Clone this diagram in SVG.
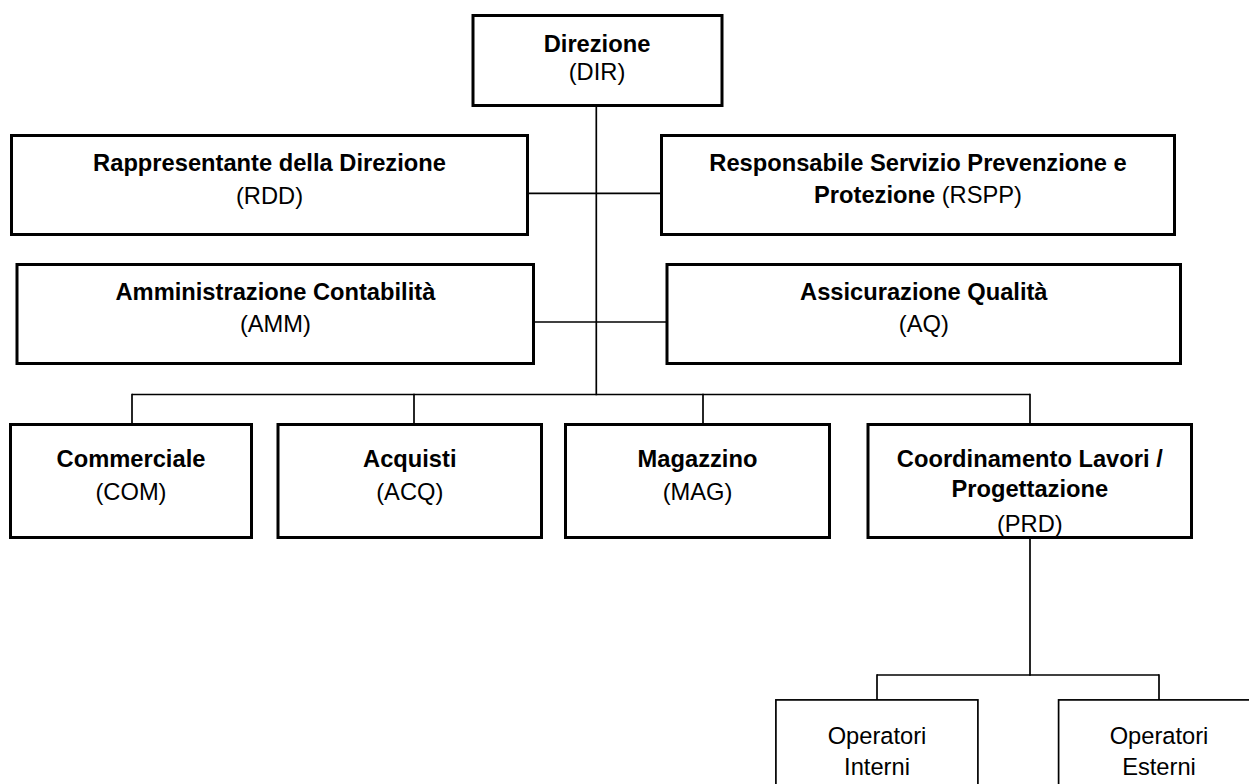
<svg xmlns="http://www.w3.org/2000/svg" width="1249" height="784" viewBox="0 0 1249 784">
<style>
.box{fill:#fff;stroke:#000;stroke-width:3}
.thin{fill:#fff;stroke:#000;stroke-width:1.7}
.conn line{stroke:#000;stroke-width:1.7}
text{font-family:"Liberation Sans",Arial,sans-serif;font-size:23.7px;fill:#000;text-anchor:middle}
.b{font-weight:bold}
</style>
<rect width="1249" height="784" fill="#fff"/>
<g class="conn" id="connectors">
<line x1="596.3" y1="106" x2="596.3" y2="395.3"/>
<line x1="528" y1="193.3" x2="661" y2="193.3"/>
<line x1="534" y1="322" x2="666" y2="322"/>
<line x1="132" y1="394.5" x2="1030" y2="394.5"/>
<line x1="132" y1="393.7" x2="132" y2="424"/>
<line x1="414" y1="393.7" x2="414" y2="424"/>
<line x1="703" y1="393.7" x2="703" y2="424"/>
<line x1="1030" y1="393.7" x2="1030" y2="424"/>
<line x1="1030" y1="538" x2="1030" y2="675.8"/>
<line x1="877" y1="675" x2="1159" y2="675"/>
<line x1="877" y1="674.2" x2="877" y2="700"/>
<line x1="1159" y1="674.2" x2="1159" y2="700"/>
</g>
<g id="DIR">
<rect class="box" x="473" y="15.5" width="249" height="90"/>
<text x="597" y="52" class="b">Direzione</text>
<text x="597" y="80">(DIR)</text>
</g>
<g id="RDD">
<rect class="box" x="11.5" y="135.5" width="516" height="99"/>
<text x="269.5" y="171" class="b">Rappresentante della Direzione</text>
<text x="269.5" y="204">(RDD)</text>
</g>
<g id="RSPP">
<rect class="box" x="661.5" y="135.5" width="513" height="99"/>
<text x="918" y="171" class="b">Responsabile Servizio Prevenzione e</text>
<text x="918" y="202.5"><tspan class="b">Protezione</tspan> (RSPP)</text>
</g>
<g id="AMM">
<rect class="box" x="17" y="264.5" width="516.5" height="99"/>
<text x="275.4" y="300" class="b">Amministrazione Contabilità</text>
<text x="275.4" y="332">(AMM)</text>
</g>
<g id="AQ">
<rect class="box" x="667" y="264.5" width="513.5" height="99"/>
<text x="923.8" y="300" class="b">Assicurazione Qualità</text>
<text x="923.8" y="332">(AQ)</text>
</g>
<g id="COM">
<rect class="box" x="10.5" y="424.5" width="241" height="113"/>
<text x="131" y="467.3" class="b">Commerciale</text>
<text x="131" y="500">(COM)</text>
</g>
<g id="ACQ">
<rect class="box" x="278" y="424.5" width="263.5" height="113"/>
<text x="409.8" y="467.3" class="b">Acquisti</text>
<text x="409.8" y="500">(ACQ)</text>
</g>
<g id="MAG">
<rect class="box" x="565.5" y="424.5" width="264" height="113"/>
<text x="697.5" y="467.3" class="b">Magazzino</text>
<text x="697.5" y="500">(MAG)</text>
</g>
<g id="PRD">
<rect class="box" x="868" y="424.5" width="323.5" height="113"/>
<text x="1029.8" y="467.3" class="b">Coordinamento Lavori /</text>
<text x="1029.8" y="497" class="b">Progettazione</text>
<text x="1029.8" y="532">(PRD)</text>
</g>
<g id="OPI">
<rect class="thin" x="775.9" y="699.9" width="202" height="110"/>
<text x="877" y="744">Operatori</text>
<text x="877" y="775">Interni</text>
</g>
<g id="OPE">
<rect class="thin" x="1058.6" y="699.9" width="201" height="110"/>
<text x="1159" y="744">Operatori</text>
<text x="1159" y="775">Esterni</text>
</g>
</svg>
